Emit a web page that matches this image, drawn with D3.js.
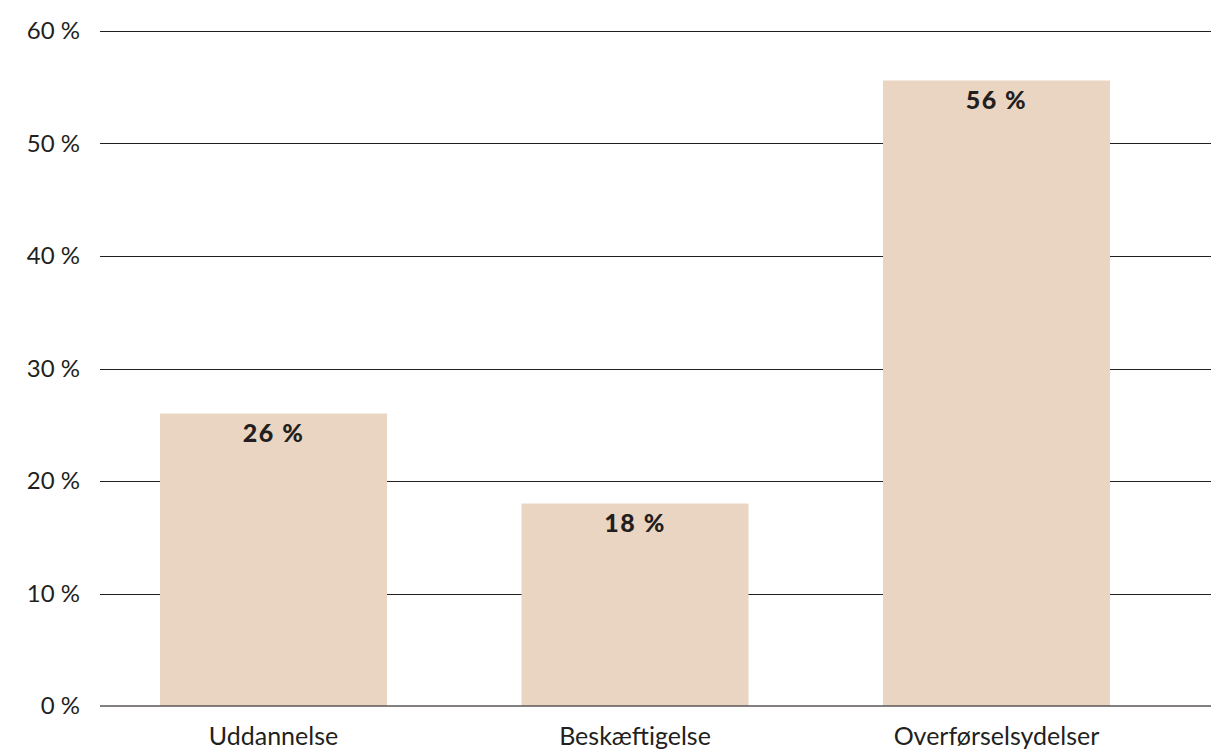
<!DOCTYPE html>
<html>
<head>
<meta charset="utf-8">
<script src="https://cdn.jsdelivr.net/npm/d3@7"></script>
<style>
  body { margin: 0; background: #fff; }
  text { font-family: Lato, "Open Sans", sans-serif; fill: #231f20; }
</style>
</head>
<body>
<svg id="chart" width="1211" height="749"></svg>
<script>
// Data
var categories = ["Uddannelse", "Beskæftigelse", "Overførselsydelser"];
var values = [26, 18, 55.6];
var valueLabels = ["26 %", "18 %", "56 %"];
var yTicks = [0, 10, 20, 30, 40, 50, 60];

var svg = d3.select("#chart");

var y = d3.scaleLinear()
    .domain([0, 60])
    .range([706, 31]);

var x = d3.scaleBand()
    .domain(categories)
    .range([100, 1170])
    .paddingInner(0.372)
    .paddingOuter(0.166);

// gridlines (behind bars)
svg.append("g").selectAll("line")
    .data(yTicks.filter(function (d) { return d > 0; }))
    .join("line")
    .attr("x1", 100)
    .attr("x2", 1211)
    .attr("y1", function (d) { return Math.round(y(d)) + 0.5; })
    .attr("y2", function (d) { return Math.round(y(d)) + 0.5; })
    .attr("stroke", "#231f20")
    .attr("stroke-width", 1);

// y tick labels
svg.append("g").selectAll("text")
    .data(yTicks)
    .join("text")
    .attr("x", 80)
    .attr("y", function (d) { return y(d) + 8; })
    .attr("text-anchor", "end")
    .attr("font-size", 24)
    .text(function (d) { return d + " %"; });

// bars
svg.append("g").selectAll("rect")
    .data(values)
    .join("rect")
    .attr("x", function (d, i) { return x(categories[i]); })
    .attr("width", x.bandwidth())
    .attr("y", function (d) { return y(d); })
    .attr("height", function (d) { return y(0) - y(d); })
    .attr("fill", "#ead5c2");

// value labels
svg.append("g").selectAll("text")
    .data(values)
    .join("text")
    .attr("x", function (d, i) { return x(categories[i]) + x.bandwidth() / 2; })
    .attr("y", function (d) { return y(d) + 28; })
    .attr("text-anchor", "middle")
    .attr("font-size", 25)
    .attr("font-weight", 900)
    .attr("letter-spacing", 1.5)
    .text(function (d, i) { return valueLabels[i]; });

// baseline
svg.append("line")
    .attr("x1", 100)
    .attr("x2", 1211)
    .attr("y1", y(0))
    .attr("y2", y(0))
    .attr("stroke", "#5b5556")
    .attr("stroke-width", 1.5);

// category labels
svg.append("g").selectAll("text")
    .data(categories)
    .join("text")
    .attr("x", function (d) { return x(d) + x.bandwidth() / 2; })
    .attr("y", 745)
    .attr("text-anchor", "middle")
    .attr("font-size", 25)
    .text(function (d) { return d; });
</script>
</body>
</html>
